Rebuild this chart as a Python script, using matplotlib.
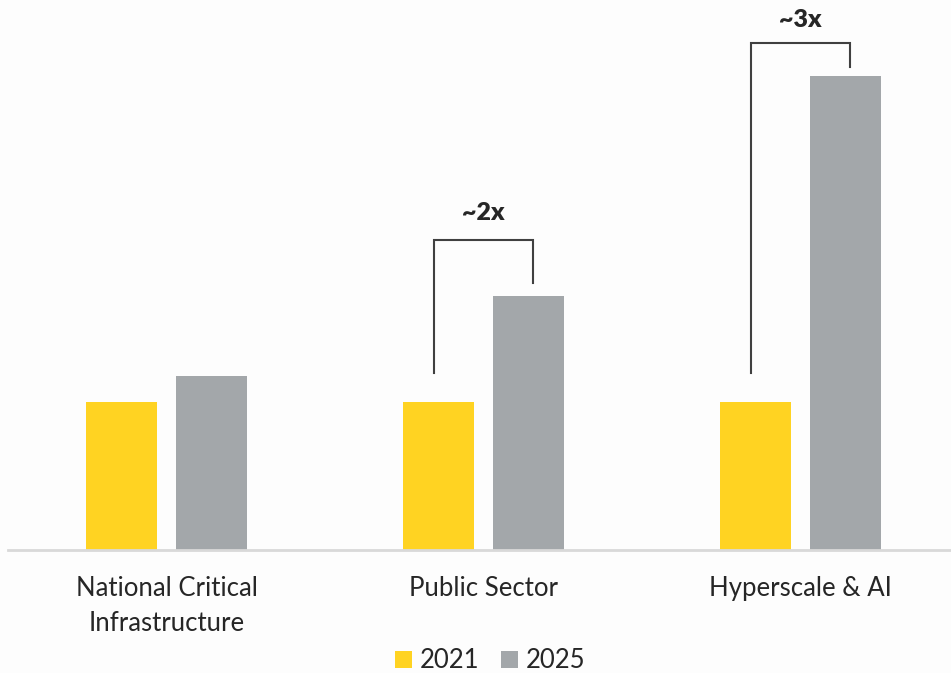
import matplotlib
matplotlib.use("Agg")
import matplotlib.pyplot as plt
import numpy as np

categories = ["National Critical\nInfrastructure", "Public Sector", "Hyperscale & AI"]
series_names = ["2021", "2025"]
values_2021 = [1.0, 1.0, 1.0]
values_2025 = [1.176, 1.716, 3.203]
bracket_labels = [None, "~2x", "~3x"]

c2021 = "#FFD322"
c2025 = "#A3A7AA"
txt = "#262626"
bg = "#FDFDFD"

plt.rcParams['font.family'] = ['Lato', 'DejaVu Sans']

fig = plt.figure(figsize=(9.51, 6.73), dpi=100, facecolor=bg)
W, H = 951, 673
ax = fig.add_axes([8 / W, (H - 550) / H, (W - 8) / W, 550 / H])
ax.set_facecolor(bg)

x = np.arange(len(categories))
off = 0.142
bw = 0.224
ax.bar(x - off, values_2021, bw, color=c2021, label=series_names[0])
ax.bar(x + off, values_2025, bw, color=c2025, label=series_names[1])

ax.set_xlim(-0.5, (W - 8) / 317 - 0.5)
ax.set_ylim(0, 550 / 148)

for s in ["top", "right", "left"]:
    ax.spines[s].set_visible(False)
ax.spines["bottom"].set_color("#D9D9D9")
ax.spines["bottom"].set_linewidth(2)
ax.set_yticks([])
ax.set_xticks(x)
ax.set_xticklabels(categories, fontsize=18.5, color=txt, linespacing=1.5)
ax.tick_params(axis="x", length=0, pad=19)

# brackets
brk_off = 0.156
lab_gap = [0, 0.18, 0.155]
for i, lab in enumerate(bracket_labels):
    if lab is None:
        continue
    top = values_2025[i] + (0.38 if i == 1 else 0.223)
    left_bot = values_2021[i] + 0.196
    right_bot = values_2025[i] + (0.088 if i == 1 else 0.061)
    xl, xr = x[i] - brk_off, x[i] + brk_off
    ax.plot([xl, xl, xr, xr], [left_bot, top, top, right_bot], color="#404040",
            lw=1.5, solid_joinstyle="miter", clip_on=False)
    ax.text(x[i], top + lab_gap[i], lab, ha="center", va="center", fontsize=18,
            fontweight="heavy", color=txt)

leg = fig.legend(loc="center", bbox_to_anchor=(490 / W, (H - 661) / H), ncol=2,
                 frameon=False, fontsize=18.5, handlelength=0.65, handleheight=0.65,
                 handletextpad=0.3, columnspacing=0.85, labelcolor=txt)

fig.savefig("out.png", dpi=100, facecolor=bg)
